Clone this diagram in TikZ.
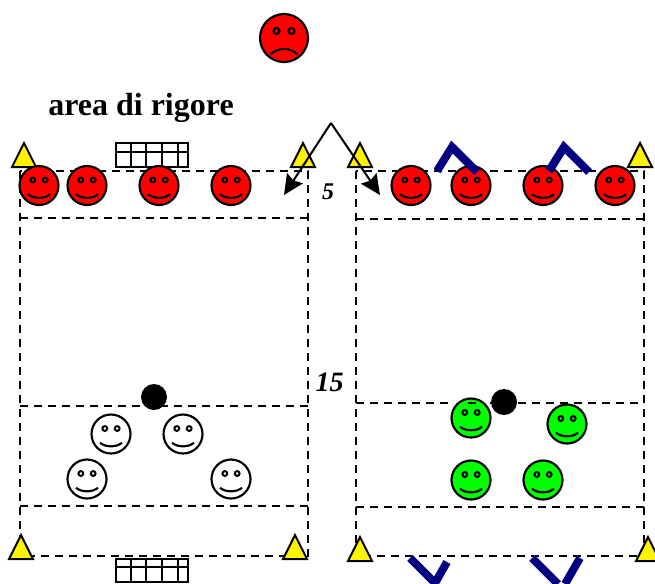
\documentclass[tikz,border=0pt]{standalone}
\usepackage{fontspec}
\setmainfont{Liberation Serif}
\usetikzlibrary{arrows.meta}
\definecolor{navyv}{RGB}{0,0,128}
\definecolor{greenf}{RGB}{0,255,0}
\tikzset{
  x=0.75pt,y=-0.75pt,
  field/.style={line width=1.5pt,dash pattern=on 6pt off 4.5pt},
  cone/.style={draw=black,fill=yellow,line width=1.5pt,line join=miter},
  goalnet/.style={draw=black,line width=1.5pt},
  stake/.style={draw=navyv,line width=6pt,line join=miter},
  ball/.style={circle,fill=black,draw=none,minimum size=19.5pt,inner sep=0pt},
  lab/.style={inner sep=0pt},
  pass/.style={-{Stealth[length=15pt,width=14pt,inset=2pt]},line width=1.5pt},
  pics/happy/.style={code={
    \draw[fill=#1,line width=1.6pt] (0,0) circle[radius=19.5];
    \draw[line width=1.5pt] (-6.2,-5.5) circle[radius=2.4] (6.2,-5.5) circle[radius=2.4];
    \draw[line width=1.6pt] (-11,8.8) .. controls (-5,13.5) and (5,13.5) .. (11,8.8);
  }},
  pics/sad/.style={code={
    \draw[fill=#1,line width=1.6pt] (0,0) circle[radius=24];
    \draw[line width=1.6pt] (-7.5,-7) circle[radius=3] (7.5,-7) circle[radius=3];
    \draw[line width=1.6pt] (-13.5,16.5) .. controls (-6,9) and (6,9) .. (13.5,16.5);
  }}
}
\newcommand{\conetri}[2]{\draw[cone] (#1,#2) -- ++(-12,24) -- ++(24,0) -- cycle;}
\newcommand{\goalbox}[2]{%
  \draw[goalnet] (116,#1) rectangle (188,#2);
  \draw[goalnet] (131,#1) -- (131,#2) (146,#1) -- (146,#2) (162,#1) -- (162,#2) (178,#1) -- (178,#2);
}
\begin{document}
\begin{tikzpicture}
\useasboundingbox (0,0) rectangle (655,583);
\clip (0,0) rectangle (655,583);
\fill[white] (0,0) rectangle (655,583);

% top face
\pic at (284,38) {sad=red};

% title
\node[inner sep=0pt,anchor=base west,font=\bfseries\fontsize{24}{28}\selectfont] (title) at (48,115) {area di rigore};

% goals
\goalbox{143}{167}
\draw[goalnet] (116,152) -- (188,152);
\goalbox{559}{582}
\draw[goalnet] (116,567) -- (188,567);

% green face drawn under its line
\pic at (471,418) {happy=greenf};

% left field
\draw[field] (20,171) rectangle (308,556);
\draw[field] (20,218) -- (308,218);
\draw[field] (20,406) -- (308,406);
\draw[field] (20,506) -- (308,506);

% right field
\draw[field] (356,171) rectangle (644,556);
\draw[field] (356,219) -- (644,219);
\draw[field] (356,507) -- (644,507);
\draw[field] (356,403) -- (450,403);
\draw[field] (468,403) -- (476,403);
\draw[field] (490,403) -- (644,403);

% cones
\conetri{24}{143}
\conetri{303}{143}
\conetri{360}{143}
\conetri{640}{143}
\conetri{21}{535}
\conetri{295}{535}
\conetri{360}{537}
\conetri{648}{537}

% stakes
\draw[stake] (437,171) -- (452,147) -- (477,172);
\draw[stake] (549,171) -- (564,147) -- (589,172);
\draw[stake] (410,558) -- (435,583) -- (447,562);
\draw[stake] (532,558) -- (558,584);
\draw[stake] (580,558) -- (565,584);

% red faces
\foreach \x in {39,87,159,231} {\pic at (\x,185.5) {happy=red};}
\foreach \x in {411,471,543,615} {\pic at (\x,185.5) {happy=red};}

% stakes over the faces
\draw[stake] (452,147) -- (477,172);
\draw[stake] (549,171) -- (564,147);

% white faces
\pic at (111,434) {happy=white};
\pic at (183,434) {happy=white};
\pic at (87,479) {happy=white};
\pic at (231,479) {happy=white};

% green faces
\pic at (567,424) {happy=greenf};
\pic at (471,480) {happy=greenf};
\pic at (543,480) {happy=greenf};

% balls
\node[ball] (ballL) at (154,397) {};
\node[ball] (ballR) at (504,402) {};

% pass arrows
\coordinate (apex) at (331,123);
\coordinate (tipL) at (284,195);
\coordinate (tipR) at (380,195);
\draw[pass] (apex) -- (tipL);
\draw[pass] (apex) -- (tipR);

% labels
\node[lab,font=\bfseries\itshape\fontsize{18}{20}\selectfont] (five) at (328,192) {5};
\node[lab,font=\bfseries\itshape\fontsize{21}{24}\selectfont] (fifteen) at (329.5,382) {15};
\end{tikzpicture}
\end{document}
